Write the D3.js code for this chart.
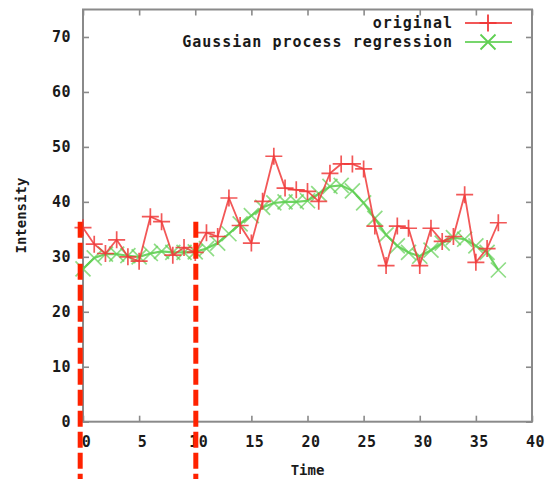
<!DOCTYPE html>
<html>
<head>
<meta charset="utf-8">
<script src="https://cdn.jsdelivr.net/npm/d3@7"></script>
<style>
  html, body { margin: 0; padding: 0; background: #fff; }
  svg { display: block; }
  .lbl { font-family: "DejaVu Sans Mono", "Liberation Mono", monospace; font-weight: bold; fill: #1a1a1a; }
</style>
</head>
<body>
<svg id="chart" width="546" height="479"></svg>
<script>
// Measured intensity over time, and the Gaussian process regression fit
const time = d3.range(0, 38);
const original = [35.3, 32.3, 30.6, 33.1, 30.0, 29.2, 37.3, 36.4, 30.3, 31.7,
                  30.8, 34.4, 33.7, 40.7, 35.7, 32.5, 40.1, 48.3, 42.5, 42.2,
                  41.9, 40.1, 45.2, 46.9, 46.9, 46.0, 35.6, 28.4, 35.6, 35.2,
                  28.4, 35.2, 32.8, 33.7, 41.3, 29.0, 31.5, 36.2];
const gpr = [27.8, 29.8, 30.5, 30.5, 30.2, 30.0, 30.6, 31.0, 30.8, 30.8,
             30.9, 31.5, 32.5, 34.2, 36.0, 37.5, 39.0, 39.8, 40.0, 40.0,
             40.2, 41.5, 42.8, 43.0, 42.0, 39.8, 37.0, 34.0, 32.0, 30.8,
             30.1, 31.2, 32.5, 33.5, 33.2, 32.0, 30.8, 27.6];

const xTicks = [0, 5, 10, 15, 20, 25, 30, 35, 40];
const yTicks = [0, 10, 20, 30, 40, 50, 60, 70];
const seriesNames = ["original", "Gaussian process regression"];

// Highlighted time markers (dashed verticals) and their vertical extent
const markerTimes = [-0.25, 10.05];
const markerSpan = [36.4, -10.5];

const svg = d3.select("#chart");
const W = 546, H = 479;
const margin = { left: 83, right: 14, top: 9.5, bottom: 57.3 };

const x = d3.scaleLinear().domain([0, 40]).range([margin.left, W - margin.right]);
const y = d3.scaleLinear().domain([0, 75]).range([H - margin.bottom, margin.top]);

const red = "#f03a3a", green = "#5fcf52";
const axisColor = "#8a8a8a";

// Axes with inward ticks (mirrored on top and right)
function styleAxis(g) {
  g.select(".domain").remove();
  g.selectAll(".tick line").attr("stroke", axisColor).attr("stroke-width", 1.6);
  g.selectAll(".tick text").attr("class", "lbl").attr("font-size", 15)
    .attr("letter-spacing", 0.5).attr("fill", "#1a1a1a");
}

svg.append("g").attr("transform", `translate(0,${y(0)})`)
  .call(d3.axisBottom(x).tickValues(xTicks).tickSize(-6).tickPadding(15).tickFormat(d3.format("d")))
  .call(styleAxis)
  .call(g => g.selectAll(".tick text").attr("dx", 3));

svg.append("g").attr("transform", `translate(0,${y(75)})`)
  .call(d3.axisTop(x).tickValues(xTicks).tickSize(-6).tickFormat(""))
  .call(styleAxis);

svg.append("g").attr("transform", `translate(${x(0)},0)`)
  .call(d3.axisLeft(y).tickValues(yTicks).tickSize(-6).tickPadding(12).tickFormat(d3.format("d")))
  .call(styleAxis);

svg.append("g").attr("transform", `translate(${x(40)},0)`)
  .call(d3.axisRight(y).tickValues(yTicks).tickSize(-6).tickFormat(""))
  .call(styleAxis);

// Plot border
svg.append("rect")
  .attr("x", x(0)).attr("y", y(75))
  .attr("width", x(40) - x(0)).attr("height", y(0) - y(75))
  .attr("fill", "none").attr("stroke", axisColor).attr("stroke-width", 2);

// Axis titles
svg.append("text").attr("class", "lbl").attr("font-size", 14)
  .attr("x", (x(0) + x(40)) / 2).attr("y", 475).attr("text-anchor", "middle")
  .text("Time");
svg.append("text").attr("class", "lbl").attr("font-size", 14)
  .attr("transform", `translate(26,${(y(0) + y(75)) / 2}) rotate(-90)`)
  .attr("text-anchor", "middle").text("Intensity");

// Point symbols
const plusPath = s => `M${-s},0H${s}M0,${-s}V${s}`;
const crossPath = s => `M${-s},${-s}L${s},${s}M${-s},${s}L${s},${-s}`;

const line = d3.line().x((d, i) => x(time[i])).y(d => y(d));

// Regression series
svg.append("path").datum(gpr)
  .attr("d", line).attr("fill", "none").attr("stroke", green)
  .attr("stroke-width", 2.2).attr("stroke-opacity", 0.9);
svg.append("g").selectAll("path").data(gpr).join("path")
  .attr("transform", (d, i) => `translate(${x(time[i])},${y(d)})`)
  .attr("d", crossPath(7.5)).attr("stroke", green).attr("stroke-width", 1.7)
  .attr("stroke-opacity", 0.7).attr("fill", "none");

// Original series
svg.append("path").datum(original)
  .attr("d", line).attr("fill", "none").attr("stroke", red)
  .attr("stroke-width", 1.8).attr("stroke-opacity", 0.85);
svg.append("g").selectAll("path").data(original).join("path")
  .attr("transform", (d, i) => `translate(${x(time[i])},${y(d)})`)
  .attr("d", plusPath(8.5)).attr("stroke", red).attr("stroke-width", 1.7)
  .attr("stroke-opacity", 0.85).attr("fill", "none");

// Legend
const legend = svg.append("g");
const legendRows = [
  { name: seriesNames[0], color: red, sym: plusPath(8.5), yText: 28, yLine: 23 },
  { name: seriesNames[1], color: green, sym: crossPath(7.5), yText: 47, yLine: 42 }
];
legendRows.forEach(r => {
  legend.append("text").attr("class", "lbl").attr("font-size", 15)
    .attr("letter-spacing", 1).attr("x", 453).attr("y", r.yText)
    .attr("text-anchor", "end").text(r.name);
  legend.append("line").attr("x1", 465).attr("x2", 512)
    .attr("y1", r.yLine).attr("y2", r.yLine)
    .attr("stroke", r.color).attr("stroke-width", 2).attr("stroke-opacity", 0.85);
  legend.append("path").attr("transform", `translate(488,${r.yLine})`)
    .attr("d", r.sym).attr("stroke", r.color).attr("stroke-width", 1.8).attr("fill", "none");
});

// Dashed time markers
svg.append("g").selectAll("line").data(markerTimes).join("line")
  .attr("x1", d => x(d)).attr("x2", d => x(d))
  .attr("y1", y(markerSpan[0])).attr("y2", y(markerSpan[1]))
  .attr("stroke", "#ff2200").attr("stroke-width", 5)
  .attr("stroke-dasharray", "16,5");
</script>
</body>
</html>
